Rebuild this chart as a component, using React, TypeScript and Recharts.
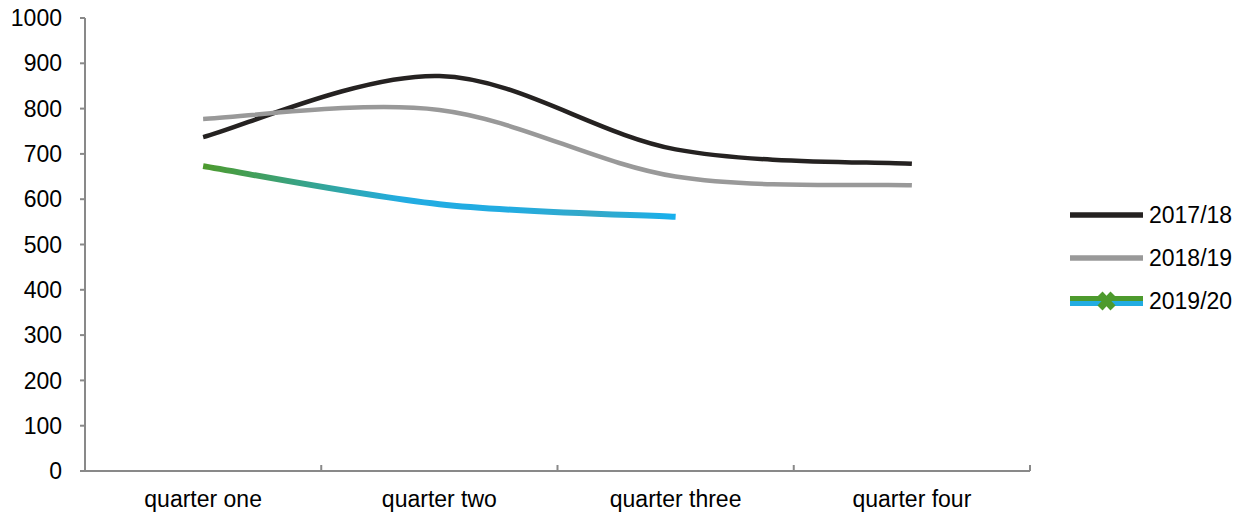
import React from 'react';
import { LineChart, Line, XAxis, YAxis } from 'recharts';

const quarters = ['quarter one', 'quarter two', 'quarter three', 'quarter four'];
const fy1718 = [737, 872, 710, 678];
const fy1819 = [777, 797, 650, 631];
const fy1920 = [673, 589, 561, null];
const yTicks = [0, 100, 200, 300, 400, 500, 600, 700, 800, 900, 1000];

const chartData = quarters.map((q, i) => ({
  quarter: q,
  fy1718: fy1718[i],
  fy1819: fy1819[i],
  fy1920: fy1920[i],
}));

const FONT = '"Liberation Sans", Arial, sans-serif';
const AXIS = '#898989';
const BLACK = '#252221';
const GREY = '#999999';
const GREEN = '#4d9a2d';
const BLUE = '#22ace2';

const W = 1250;
const H = 510;
const MARGIN = { top: 10, right: 228, bottom: 0, left: 0 };
const Y_W = 77;
const X_H = 47;
const BAND = (W - MARGIN.right - Y_W) / quarters.length;

// smoothed line like Excel: bezier with control points at 1/6 of the neighbour chord
function excelSmooth(context: any) {
  let pts: number[][] = [];
  return {
    areaStart() {},
    areaEnd() {},
    lineStart() {
      pts = [];
    },
    point(x: number, y: number) {
      pts.push([+x, +y]);
    },
    lineEnd() {
      const n = pts.length;
      if (!n) return;
      context.moveTo(pts[0][0], pts[0][1]);
      for (let i = 0; i < n - 1; i++) {
        const p0 = pts[Math.max(i - 1, 0)];
        const p1 = pts[i];
        const p2 = pts[i + 1];
        const p3 = pts[Math.min(i + 2, n - 1)];
        context.bezierCurveTo(
          p1[0] + (p2[0] - p0[0]) / 6,
          p1[1] + (p2[1] - p0[1]) / 6,
          p2[0] - (p3[0] - p1[0]) / 6,
          p2[1] - (p3[1] - p1[1]) / 6,
          p2[0],
          p2[1]
        );
      }
    },
  };
}

const QuarterTick = ({ x, y, payload, index }: any) => (
  <g>
    <line x1={x - BAND / 2} y1={y} x2={x - BAND / 2} y2={y - 6} stroke={AXIS} strokeWidth={2} />
    {index === quarters.length - 1 && (
      <line x1={x + BAND / 2} y1={y} x2={x + BAND / 2} y2={y - 6} stroke={AXIS} strokeWidth={2} />
    )}
    <text x={x} y={y + 36} textAnchor="middle" fontSize={23} fill="#000" fontFamily={FONT}>
      {payload.value}
    </text>
  </g>
);

const legendItems = [
  { name: '2017/18', kind: 'black' },
  { name: '2018/19', kind: 'grey' },
  { name: '2019/20', kind: 'grad' },
];

function Swatch({ kind }: { kind: string }) {
  if (kind === 'grad') {
    return (
      <svg width={73} height={26}>
        <rect x={0} y={8} width={73} height={5} fill={GREEN} />
        <rect x={0} y={13} width={73} height={5} fill={BLUE} />
        <line x1={30} y1={6} x2={43} y2={20} stroke={GREEN} strokeWidth={7} />
        <line x1={43} y1={6} x2={30} y2={20} stroke={GREEN} strokeWidth={7} />
      </svg>
    );
  }
  return (
    <svg width={73} height={26}>
      <line x1={0} y1={13} x2={73} y2={13} stroke={kind === 'black' ? BLACK : GREY} strokeWidth={5.5} />
    </svg>
  );
}

export default function App() {
  return (
    <div style={{ position: 'relative', width: W, height: H, fontFamily: FONT }}>
      <LineChart width={W} height={H} data={chartData} margin={MARGIN} style={{ overflow: 'visible' }}>
        <defs>
          <linearGradient id="fy1920grad" x1="0" y1="0" x2="1" y2="0">
            <stop offset="0" stopColor={GREEN} />
            <stop offset="0.42" stopColor={BLUE} />
            <stop offset="0.65" stopColor={BLUE} />
            <stop offset="0.82" stopColor="#35a8c6" />
            <stop offset="1" stopColor="#17b0ee" />
          </linearGradient>
        </defs>
        <XAxis
          dataKey="quarter"
          scale="band"
          height={X_H}
          axisLine={{ stroke: AXIS, strokeWidth: 2 }}
          tickLine={false}
          tickSize={0}
          tickMargin={0}
          interval={0}
          tick={(p: any) => <QuarterTick {...p} />}
        />
        <YAxis
          width={Y_W}
          domain={[0, 1000]}
          ticks={yTicks}
          interval={0}
          axisLine={{ stroke: AXIS, strokeWidth: 2 }}
          tickLine={{ stroke: AXIS, strokeWidth: 2 }}
          tickSize={5}
          tickMargin={18}
          tick={{ fontSize: 23, fill: '#000', fontFamily: FONT }}
        />
        <Line
          dataKey="fy1718"
          name="2017/18"
          type={excelSmooth as any}
          stroke={BLACK}
          strokeWidth={4.5}
          dot={false}
          activeDot={false}
          isAnimationActive={false}
        />
        <Line
          dataKey="fy1819"
          name="2018/19"
          type={excelSmooth as any}
          stroke={GREY}
          strokeWidth={4.5}
          dot={false}
          activeDot={false}
          isAnimationActive={false}
        />
        <Line
          dataKey="fy1920"
          name="2019/20"
          type={excelSmooth as any}
          stroke="url(#fy1920grad)"
          strokeWidth={6}
          dot={false}
          activeDot={false}
          isAnimationActive={false}
        />
      </LineChart>
      {legendItems.map((item, i) => (
        <div
          key={item.name}
          style={{
            position: 'absolute',
            left: 1062,
            top: 207 + i * 43 - 13,
            height: 26,
            display: 'flex',
            alignItems: 'center',
          }}
        >
          <Swatch kind={item.kind} />
          <span style={{ marginLeft: 6, fontSize: 23, lineHeight: '26px', color: '#000' }}>{item.name}</span>
        </div>
      ))}
    </div>
  );
}
